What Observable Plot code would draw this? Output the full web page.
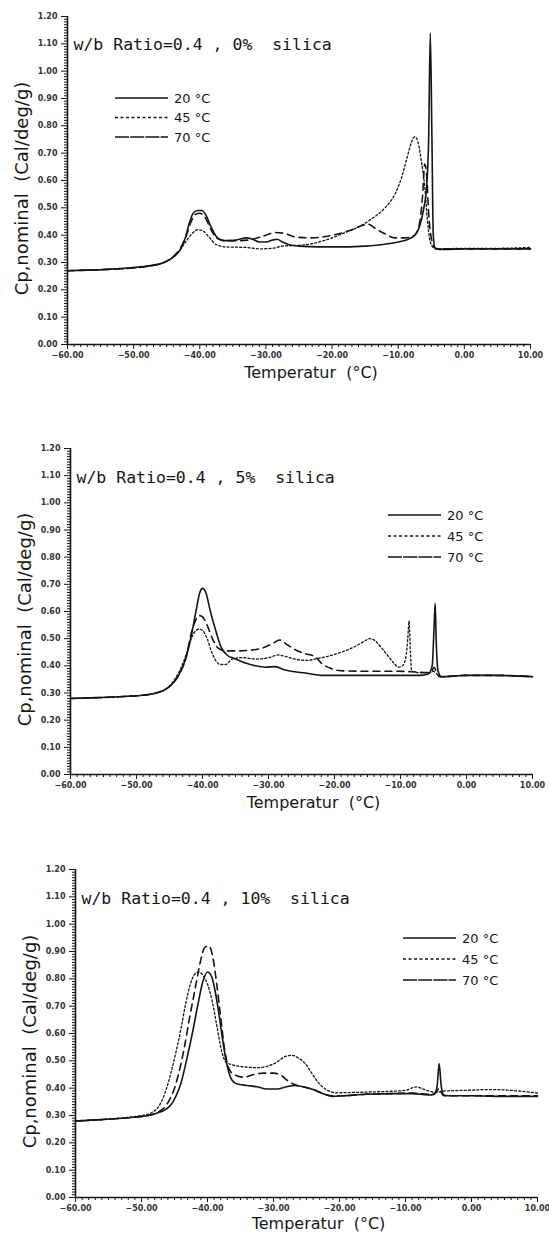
<!DOCTYPE html>
<html><head><meta charset="utf-8">
<script src="https://cdn.jsdelivr.net/npm/d3@7"></script>
<script src="https://cdn.jsdelivr.net/npm/@observablehq/plot@0.6"></script>
<style>
body{margin:0;background:#fff}
#wrap{position:relative;width:549px;height:1235px;background:#fff}
.panel{position:absolute;left:0}
</style></head><body><div id="wrap"></div>
<script>
// ---- data ----
const seriesLabels = ["20 °C", "45 °C", "70 °C"];
const xDomain = [-60, 10];
const yDomain = [0, 1.2];
const xTicks = [-60, -50, -40, -30, -20, -10, 0, 10];
const yTicks = [0, 0.1, 0.2, 0.3, 0.4, 0.5, 0.6, 0.7, 0.8, 0.9, 1.0, 1.1, 1.2];
const xLabel = "Temperatur\u00a0 (°C)";
const yLabel = "Cp,nominal\u00a0 (Cal/deg/g)";
const titles = ["w/b Ratio=0.4 , 0%\u00a0 silica", "w/b Ratio=0.4 , 5%\u00a0 silica", "w/b Ratio=0.4 , 10%\u00a0 silica"];

// Panel 1: 0% silica  [T, Cp]
const p1_20 = [[-60,0.27],[-57,0.272],[-54,0.275],[-51,0.28],[-48,0.287],[-46,0.295],[-45,0.305],[-44,0.32],[-43,0.345],[-42.2,0.39],[-41.5,0.45],[-41,0.48],[-40.3,0.49],[-39.7,0.49],[-39,0.47],[-38.3,0.43],[-37.5,0.395],[-36.5,0.38],[-35,0.38],[-34,0.385],[-33,0.39],[-32,0.385],[-31,0.375],[-30,0.375],[-29,0.382],[-28.3,0.385],[-27.5,0.375],[-26.5,0.365],[-25,0.36],[-22,0.357],[-18,0.357],[-15,0.36],[-12,0.367],[-10,0.375],[-8.5,0.385],[-7.5,0.40],[-6.8,0.43],[-6.2,0.49],[-5.7,0.58],[-5.4,0.75],[-5.15,1.14],[-4.9,0.75],[-4.7,0.40],[-4.4,0.35],[-3,0.348],[0,0.35],[3,0.35],[6,0.35],[10,0.35]];
const p1_45 = [[-60,0.27],[-54,0.275],[-50,0.28],[-47,0.29],[-45,0.305],[-44,0.32],[-43,0.345],[-42,0.38],[-41,0.41],[-40.3,0.42],[-39.5,0.415],[-38.5,0.39],[-37.5,0.365],[-36,0.357],[-33,0.355],[-31,0.35],[-29,0.352],[-27.5,0.36],[-26,0.362],[-24,0.365],[-22,0.375],[-20,0.39],[-18,0.41],[-16,0.43],[-14,0.46],[-12,0.5],[-10.5,0.55],[-9.5,0.61],[-8.7,0.68],[-8,0.74],[-7.5,0.76],[-7,0.74],[-6.5,0.67],[-6,0.58],[-5.6,0.46],[-5.2,0.38],[-4.7,0.355],[-4,0.35],[0,0.352],[5,0.352],[10,0.355]];
const p1_70 = [[-60,0.27],[-54,0.275],[-50,0.28],[-47,0.29],[-45,0.305],[-44,0.322],[-43,0.35],[-42,0.40],[-41.3,0.45],[-40.7,0.475],[-40,0.48],[-39.2,0.465],[-38.3,0.42],[-37.5,0.39],[-36,0.38],[-34,0.38],[-32,0.385],[-30,0.40],[-28.5,0.41],[-27,0.405],[-25.5,0.393],[-23,0.39],[-21,0.395],[-19,0.405],[-17,0.42],[-15.5,0.435],[-14.5,0.44],[-13.5,0.425],[-12,0.405],[-10.5,0.39],[-9,0.39],[-7.5,0.40],[-6.8,0.44],[-6.3,0.55],[-6,0.66],[-5.7,0.62],[-5.4,0.48],[-5,0.39],[-4.5,0.355],[-4,0.35],[0,0.35],[5,0.35],[10,0.35]];

// Panel 2: 5% silica
const p2_20 = [[-60,0.28],[-56,0.283],[-52,0.287],[-49,0.292],[-47,0.30],[-45.5,0.315],[-44.5,0.335],[-43.5,0.37],[-42.5,0.43],[-41.7,0.51],[-41,0.60],[-40.4,0.67],[-40,0.685],[-39.5,0.67],[-38.8,0.60],[-38,0.53],[-37.2,0.47],[-36.3,0.44],[-35,0.425],[-33.5,0.41],[-32,0.40],[-30.5,0.395],[-29,0.397],[-27.5,0.385],[-26,0.378],[-24,0.372],[-22,0.365],[-18,0.365],[-14,0.365],[-10,0.365],[-7,0.365],[-5.8,0.37],[-5.2,0.40],[-4.9,0.55],[-4.75,0.63],[-4.6,0.50],[-4.3,0.38],[-3.8,0.36],[-2,0.362],[0,0.365],[4,0.365],[7,0.363],[10,0.36]];
const p2_45 = [[-60,0.28],[-52,0.287],[-49,0.292],[-47,0.30],[-45.5,0.315],[-44.5,0.34],[-43.5,0.38],[-42.5,0.44],[-41.7,0.50],[-41,0.53],[-40.5,0.535],[-40,0.53],[-39.3,0.50],[-38.6,0.45],[-38,0.42],[-37.3,0.405],[-36.5,0.405],[-35.5,0.425],[-34,0.43],[-32,0.425],[-30,0.43],[-28.5,0.44],[-27.5,0.435],[-26,0.425],[-24,0.42],[-23,0.425],[-21,0.435],[-19,0.45],[-17,0.47],[-15.5,0.49],[-14.7,0.50],[-14,0.495],[-13,0.47],[-12,0.44],[-11,0.41],[-10.3,0.395],[-9.7,0.40],[-9.2,0.43],[-8.9,0.50],[-8.7,0.565],[-8.5,0.45],[-8.3,0.38],[-7,0.375],[-5.5,0.375],[-5,0.38],[-4.5,0.37],[-3.8,0.36],[0,0.365],[5,0.365],[10,0.36]];
const p2_70 = [[-60,0.28],[-52,0.287],[-49,0.292],[-47,0.30],[-45.5,0.315],[-44.5,0.335],[-43.5,0.37],[-42.5,0.43],[-41.7,0.52],[-41,0.57],[-40.5,0.585],[-40,0.58],[-39.3,0.55],[-38.5,0.50],[-37.6,0.465],[-36.5,0.455],[-35,0.455],[-33,0.457],[-31,0.465],[-29.5,0.48],[-28.3,0.495],[-27.3,0.48],[-26,0.46],[-24.5,0.445],[-23,0.435],[-22,0.41],[-20.5,0.39],[-19,0.382],[-15,0.38],[-11,0.38],[-8,0.378],[-6,0.375],[-5.3,0.38],[-4.9,0.395],[-4.6,0.38],[-4.2,0.362],[-3.8,0.36],[0,0.365],[5,0.365],[10,0.36]];

// Panel 3: 10% silica
const p3_20 = [[-60,0.28],[-56,0.285],[-52,0.292],[-49,0.30],[-47.5,0.31],[-46.5,0.32],[-45.5,0.34],[-44.8,0.37],[-44,0.42],[-43.2,0.50],[-42.3,0.60],[-41.5,0.70],[-40.7,0.79],[-40,0.825],[-39.4,0.81],[-38.8,0.75],[-38.2,0.66],[-37.6,0.56],[-37,0.48],[-36.3,0.43],[-35.5,0.415],[-34,0.41],[-32.5,0.405],[-31,0.397],[-29.5,0.397],[-28,0.405],[-26.8,0.41],[-25.5,0.405],[-24,0.395],[-22.5,0.38],[-21,0.37],[-19.5,0.372],[-16,0.378],[-12,0.38],[-9,0.38],[-6.5,0.375],[-5.6,0.378],[-5.2,0.41],[-4.9,0.49],[-4.6,0.41],[-4.2,0.375],[-3.5,0.372],[0,0.372],[5,0.37],[10,0.37]];
const p3_45 = [[-60,0.28],[-56,0.285],[-52,0.293],[-50,0.30],[-48.5,0.31],[-47.5,0.33],[-46.8,0.36],[-46.2,0.40],[-45.5,0.46],[-44.8,0.53],[-44,0.62],[-43.3,0.71],[-42.6,0.78],[-42,0.815],[-41.3,0.825],[-40.6,0.81],[-40,0.78],[-39.3,0.72],[-38.6,0.63],[-37.9,0.54],[-37.2,0.495],[-36.2,0.485],[-34.5,0.478],[-32.5,0.475],[-31,0.48],[-29.5,0.495],[-28.3,0.515],[-27.2,0.52],[-26.2,0.51],[-25.2,0.49],[-24.2,0.455],[-23.2,0.42],[-22,0.395],[-20.5,0.383],[-17,0.385],[-13,0.388],[-10,0.392],[-8.3,0.405],[-7.5,0.398],[-6.5,0.39],[-5.5,0.385],[-4,0.39],[-1,0.392],[3,0.395],[7,0.39],[10,0.382]];
const p3_70 = [[-60,0.28],[-56,0.285],[-52,0.292],[-49,0.30],[-47.5,0.312],[-46.5,0.33],[-45.7,0.36],[-45,0.40],[-44.3,0.46],[-43.5,0.55],[-42.7,0.66],[-41.9,0.76],[-41.1,0.86],[-40.4,0.915],[-39.8,0.92],[-39.2,0.88],[-38.6,0.78],[-38,0.66],[-37.4,0.54],[-36.8,0.475],[-36,0.45],[-34.5,0.44],[-33,0.45],[-31.5,0.455],[-30,0.455],[-29,0.45],[-28,0.43],[-27,0.415],[-25.5,0.405],[-24,0.395],[-22.5,0.38],[-21,0.372],[-19.5,0.372],[-16,0.378],[-12,0.38],[-9,0.382],[-6.5,0.378],[-5.6,0.38],[-5.2,0.39],[-4.9,0.40],[-4.6,0.385],[-4.2,0.372],[-3.5,0.372],[0,0.372],[5,0.372],[10,0.372]];

// ---- styles & layout ----
const INK = "#151515";
const lineStyles = [
  {strokeWidth: 1.6, strokeDasharray: null},
  {strokeWidth: 1.3, strokeDasharray: "2,2.2"},
  {strokeWidth: 1.6, strokeDasharray: "7,5"}
];
const legendStyles = [null, "3,2.5", "14,1.2"];
const yMinor = d3.range(0, 121).map(i => i / 100).filter(v => Math.round(v * 100) % 10 !== 0);
const xMinor = d3.range(-60, 11).filter(v => v % 10 !== 0);

const layouts = [
  {top: 0,   x0: 67, x1: 530, y1: 16, y0: 344, titleDy: 28, legend: {x: 115, y: 98, w: 53, dy: 19.5}, xlabDy: 28},
  {top: 432, x0: 70, x1: 532, y1: 16, y0: 342, titleDy: 29, legend: {x: 388, y: 83, w: 53, dy: 21}, xlabDy: 28},
  {top: 853, x0: 75, x1: 537, y1: 16, y0: 344, titleDy: 29, legend: {x: 403, y: 85, w: 53, dy: 21}, xlabDy: 26}
];
const panels = [[p1_20, p1_45, p1_70], [p2_20, p2_45, p2_70], [p3_20, p3_45, p3_70]];

function legendMark(L) {
  return () => {
    const g = d3.create("svg:g");
    seriesLabels.forEach((lab, i) => {
      const y = L.y + i * L.dy;
      g.append("line").attr("x1", L.x).attr("x2", L.x + L.w).attr("y1", y).attr("y2", y)
        .attr("stroke", INK).attr("stroke-width", 1.5)
        .attr("stroke-dasharray", legendStyles[i]);
      g.append("text").attr("x", L.x + L.w + 6).attr("y", y).attr("dy", "0.35em")
        .attr("text-anchor", "start")
        .attr("font-family", "DejaVu Sans").attr("font-size", 13).attr("fill", INK).text(lab);
    });
    return g.node();
  };
}

const wrap = document.getElementById("wrap");
panels.forEach((series, p) => {
  const L = layouts[p];
  const h = L.y0 - L.y1;
  const chart = Plot.plot({
    width: 549,
    height: L.y1 + h + 40,
    marginLeft: L.x0, marginRight: 549 - L.x1, marginTop: L.y1, marginBottom: 40,
    style: {fontFamily: "DejaVu Sans", background: "transparent", color: INK, overflow: "visible"},
    x: {domain: xDomain},
    y: {domain: yDomain},
    marks: [
      Plot.axisY(yMinor, {tickSize: 3, tickFormat: () => "", label: null, strokeWidth: 1}),
      Plot.axisY(yTicks, {tickSize: 6, tickPadding: 4, tickFormat: d => d.toFixed(2), label: null, fontSize: 8, fontWeight: "bold", fill: "#333"}),
      Plot.axisX(xMinor, {tickSize: 3, tickFormat: () => "", label: null, strokeWidth: 1}),
      Plot.axisX(xTicks, {tickSize: 5, tickPadding: 3, tickFormat: d => d.toFixed(2).replace("-", "\u2212"), label: null, fontSize: 8, fontWeight: "bold", fill: "#333"}),
      Plot.ruleY([yDomain[0]], {stroke: INK, strokeWidth: 1.6}),
      Plot.ruleX([xDomain[0]], {stroke: INK, strokeWidth: 1.6}),
      ...series.map((s, i) => Plot.line(s, {x: d => d[0], y: d => d[1], stroke: INK, curve: "monotone-x", ...lineStyles[i]})),
      Plot.text([titles[p]], {text: d => d, frameAnchor: "top-left", textAnchor: "start", lineAnchor: "middle", dx: 6, dy: L.titleDy, fontFamily: "DejaVu Sans Mono", fontSize: 16.5, fill: INK}),
      Plot.text([xLabel], {text: d => d, frameAnchor: "bottom", textAnchor: "middle", lineAnchor: "middle", dx: 12, dy: L.xlabDy, fontSize: 16, fill: INK}),
      Plot.text([yLabel], {text: d => d, frameAnchor: "left", textAnchor: "middle", lineAnchor: "middle", rotate: -90, dx: -45, dy: 8, fontSize: 18, fill: INK}),
      legendMark(L.legend)
    ]
  });
  chart.classList.add("panel");
  chart.style.top = L.top + "px";
  wrap.appendChild(chart);
});
</script></body></html>
